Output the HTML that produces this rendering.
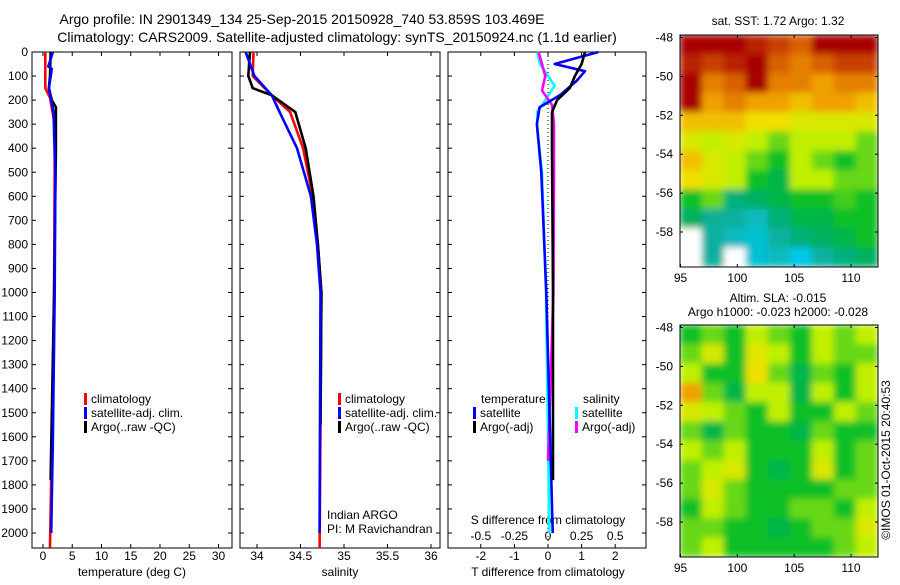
<!DOCTYPE html>
<html><head><meta charset="utf-8"><style>
body{margin:0;background:#fff;width:900px;height:580px;overflow:hidden}
svg{font-family:"Liberation Sans",sans-serif;font-size:12px}
</style></head><body>
<svg id="s" width="900" height="580" xmlns="http://www.w3.org/2000/svg">
<defs>
<filter id="blur" x="-5%" y="-5%" width="110%" height="110%"><feGaussianBlur stdDeviation="3.5" edgeMode="duplicate"/></filter>
<clipPath id="clip1"><rect x="680" y="35" width="198" height="232"/></clipPath>
<clipPath id="clip2"><rect x="680" y="325" width="198" height="232"/></clipPath>
</defs>
<text x="302" y="24" text-anchor="middle" style="font-size:14px">Argo profile: IN 2901349_134 25-Sep-2015 20150928_740 53.859S 103.469E</text>
<text x="337" y="42" text-anchor="middle" style="font-size:14px">Climatology: CARS2009. Satellite-adjusted climatology: synTS_20150924.nc (1.1d earlier)</text>
<text x="778" y="25" text-anchor="middle">sat. SST: 1.72 Argo: 1.32</text>
<text x="778" y="302" text-anchor="middle">Altim. SLA: -0.015</text>
<text x="778" y="316" text-anchor="middle">Argo h1000: -0.023 h2000: -0.028</text>
<text transform="translate(890,460) rotate(-90)" text-anchor="middle">©IMOS 01-Oct-2015 20:40:53</text>
<text x="327" y="519">Indian ARGO</text>
<text x="327" y="533">PI: M Ravichandran</text>
</svg>
<script>
const NS="http://www.w3.org/2000/svg";
const svg=document.getElementById('s');
function mk(t,a,p){const e=document.createElementNS(NS,t);for(const k in a)e.setAttribute(k,a[k]);(p||svg).appendChild(e);return e;}
// ---- data ----
const depthTicks=[0,100,200,300,400,500,600,700,800,900,1000,1100,1200,1300,1400,1500,1600,1700,1800,1900,2000];
const tempTicks=[0,5,10,15,20,25,30];
const salTicks=[34,34.5,35,35.5,36];
const salTickLabels=["34","34.5","35","35.5","36"];
const tdiffTicks=[-2,-1,0,1,2];
const sdiffTicks=[-0.5,-0.25,0,0.25,0.5];
const sdiffTickLabels=["-0.5","-0.25","0","0.25","0.5"];
const tClimD=[0,150,190,300,500,1000,1500,2060];
const tClimV=[0.4,0.4,1.2,2.0,2.0,1.9,1.6,1.2];
const tArgoD=[0,100,150,200,230,400,1000,1780];
const tArgoV=[1.3,1.2,1.0,1.5,2.2,2.2,1.9,1.3];
const tSatD=[0,60,70,150,250,500,1000,1600,2000];
const tSatV=[1.7,0.9,1.5,1.0,1.8,2.1,2.0,1.7,1.4];
const sClimD=[0,100,180,250,400,600,800,1000,2060];
const sClimV=[33.96,33.95,34.17,34.38,34.53,34.64,34.70,34.74,34.72];
const sArgoD=[0,100,150,180,250,400,600,800,1000,1550];
const sArgoV=[33.92,33.9,33.95,34.17,34.44,34.56,34.65,34.70,34.74,34.73];
const sSatD=[0,100,180,250,400,600,800,1000,2000];
const sSatV=[33.87,33.97,34.17,34.26,34.46,34.62,34.69,34.73,34.72];
const dtSatD=[0,50,80,120,180,230,300,500,1000,2000];
const dtSatV=[1.5,0.2,1.1,0.85,0.35,-0.25,-0.33,-0.2,-0.05,0.14];
const dtArgoD=[0,50,100,150,200,250,400,1000,1780];
const dtArgoV=[1.1,1.0,0.8,0.65,0.27,0.12,0.12,0.15,0.15];
const dsSatD=[0,50,100,140,200,250,320,500,1000,2000];
const dsSatV=[-0.08,-0.06,0,0.05,-0.02,-0.08,-0.08,-0.045,-0.015,0.01];
const dsArgoD=[0,100,160,220,300,500,1000,1700];
const dsArgoV=[-0.07,-0.02,-0.045,0.03,0.045,0.045,0.04,0.0];
const sstGrid=[
[1,1,1,0.95,0.9,0.85,1,1,1],
[0.95,0.9,0.95,1,0.85,0.8,0.85,0.9,0.9],
[1,0.8,0.85,1,0.8,0.8,0.75,0.8,0.8],
[1,0.75,0.8,0.75,0.75,0.7,0.75,0.75,0.7],
[0.7,0.7,0.7,0.65,0.65,0.6,0.6,0.6,0.6],
[0.6,0.55,0.6,0.55,0.5,0.55,0.55,0.55,0.5],
[0.7,0.6,0.55,0.5,0.45,0.55,0.5,0.45,0.5],
[0.65,0.6,0.55,0.45,0.42,0.55,0.55,0.5,0.5],
[0.45,0.5,0.38,0.4,0.42,0.45,0.45,0.48,0.45],
[0.4,0.36,0.35,0.32,0.38,0.42,0.42,0.45,0.45],
[null,0.35,0.32,0.3,0.35,0.38,0.4,0.42,0.45],
[null,0.35,null,0.3,0.32,0.28,0.35,0.38,0.4]];
const slaGrid=[
[0.45,0.5,0.45,0.55,0.5,0.45,0.55,0.5,0.55],
[0.5,0.6,0.45,0.62,0.55,0.45,0.55,0.5,0.5],
[0.55,0.45,0.45,0.65,0.5,0.42,0.5,0.45,0.55],
[0.75,0.5,0.42,0.55,0.55,0.42,0.55,0.45,0.55],
[0.6,0.55,0.5,0.45,0.55,0.45,0.45,0.55,0.5],
[0.5,0.42,0.5,0.45,0.45,0.42,0.5,0.45,0.45],
[0.55,0.5,0.55,0.45,0.45,0.45,0.55,0.45,0.5],
[0.5,0.55,0.6,0.45,0.42,0.45,0.6,0.45,0.5],
[0.5,0.6,0.5,0.45,0.45,0.45,0.45,0.5,0.5],
[0.45,0.55,0.5,0.45,0.45,0.5,0.5,0.45,0.55],
[0.5,0.5,0.45,0.45,0.42,0.45,0.5,0.5,0.6],
[0.5,0.55,0.45,0.45,0.45,0.45,0.45,0.5,0.55]];
const latTicks=[-48,-50,-52,-54,-56,-58];
const lonTicks=[95,100,105,110];
// ---- axes ----
const Y0=52,YS=0.2405,YB=548;
const yD=d=>Y0+d*YS;
const xT=v=>43+5.85*v;
const xS=v=>257+87*(v-34);
const xDT=v=>548+33.6*v;
const xDS=v=>548+134.4*v;
const panels=[[32,232],[240,440],[448,646]];
panels.forEach((p,i)=>{
  const r=mk('rect',{x:p[0],y:Y0,width:p[1]-p[0],height:YB-Y0,fill:'none',stroke:'#000','stroke-width':1});
  
  
  depthTicks.forEach(d=>{mk('line',{x1:p[0],x2:p[0]+4,y1:yD(d),y2:yD(d),stroke:'#000'});mk('line',{x1:p[1],x2:p[1]-4,y1:yD(d),y2:yD(d),stroke:'#000'});});
});
depthTicks.forEach(d=>{const t=mk('text',{x:28,y:yD(d)+4,'text-anchor':'end'});t.textContent=d;
  
  });
function xticks(ticks,labels,f,ly){ticks.forEach((v,i)=>{const x=f(v);
  mk('line',{x1:x,x2:x,y1:YB,y2:YB-4,stroke:'#000'});mk('line',{x1:x,x2:x,y1:Y0,y2:Y0+4,stroke:'#000'});
  const t=mk('text',{x:x,y:ly,'text-anchor':'middle'});t.textContent=labels[i];
  
  });}
xticks(tempTicks,tempTicks.map(String),xT,560);
xticks(salTicks,salTickLabels,xS,560);
xticks(tdiffTicks,tdiffTicks.map(String),xDT,560);
sdiffTicks.forEach((v,i)=>{const t=mk('text',{x:xDS(v),y:540,'text-anchor':'middle'});t.textContent=sdiffTickLabels[i];
  
  });
[[132,'temperature (deg C)','temp-axis-title'],[340,'salinity','salinity-axis-title'],[548,'T difference from climatology','t-diff-axis-title']].forEach(a=>{const t=mk('text',{x:a[0],y:576,'text-anchor':'middle'});t.textContent=a[1];
  
  });
{const t=mk('text',{x:548,y:524,'text-anchor':'middle'});t.textContent='S difference from climatology';
 
 }
mk('line',{x1:548,x2:548,y1:Y0,y2:YB,stroke:'#000','stroke-dasharray':'1,3'});
function line(D,V,fx,col,name){const pts=D.map((d,i)=>fx(V[i]).toFixed(1)+','+yD(d).toFixed(1)).join(' ');
  const e=mk('polyline',{points:pts,fill:'none',stroke:col,'stroke-width':2.6,'stroke-linejoin':'round'});
  
  }
line(tClimD,tClimV,xT,'#f00','temp-climatology-line');
line(tArgoD,tArgoV,xT,'#000','temp-argo-line');
line(tSatD,tSatV,xT,'#00f','temp-satellite-line');
line(sClimD,sClimV,xS,'#f00','salinity-climatology-line');
line(sArgoD,sArgoV,xS,'#000','salinity-argo-line');
line(sSatD,sSatV,xS,'#00f','salinity-satellite-line');
line(dsSatD,dsSatV,xDS,'#0ff','s-diff-satellite-line');
line(dsArgoD,dsArgoV,xDS,'#f0f','s-diff-argo-line');
line(dtSatD,dtSatV,xDT,'#00f','t-diff-satellite-line');
line(dtArgoD,dtArgoV,xDT,'#000','t-diff-argo-line');
function leg(x,y,col,txt){mk('rect',{x:x,y:y-10,width:3,height:12,fill:col});const t=mk('text',{x:x+7,y:y});t.textContent=txt;
  
  }
leg(84,403,'#f00','climatology');leg(84,417,'#00f','satellite-adj. clim.');leg(84,431,'#000','Argo(..raw -QC)');
leg(338,403,'#f00','climatology');leg(338,417,'#00f','satellite-adj. clim.');leg(338,431,'#000','Argo(..raw -QC)');
{const t=mk('text',{x:481,y:403});t.textContent='temperature';
 const u=mk('text',{x:583,y:403});u.textContent='salinity';}
leg(473,417,'#00f','satellite');leg(473,431,'#000','Argo(-adj)');
leg(575,417,'#0ff','satellite');leg(575,431,'#f0f','Argo(-adj)');
// ---- maps ----
const stops=[[0.28,[0,200,230]],[0.35,[16,176,160]],[0.4,[0,176,96]],[0.45,[16,192,40]],[0.55,[192,240,0]],[0.65,[240,224,0]],[0.75,[240,160,0]],[0.85,[216,96,0]],[1,[168,0,0]]];
function cmap(v){if(v<=stops[0][0])return 'rgb('+stops[0][1]+')';for(let i=1;i<stops.length;i++){if(v<=stops[i][0]){const a=stops[i-1],b=stops[i],t=(v-a[0])/(b[0]-a[0]);return 'rgb('+a[1].map((c,k)=>Math.round(c+(b[1][k]-c)*t)).join(',')+')';}}return 'rgb(168,0,0)';}
function map(grid,top,name,clip){
  const L=680,R=878,B=top+232;
  const lonX=v=>680.5+(v-95)*(851-680.5)/15;
  const latY=v=>top+2.5+(-48-v)*(194.5/10);
  const outer=mk('g',{'clip-path':'url(#'+clip+')'});
  const g=mk('g',{filter:'url(#blur)'},outer);
  
  
  const nr=grid.length,nc=grid[0].length,cw=(R-L)/nc,ch=(B-top)/nr;
  grid.forEach((row,r)=>row.forEach((v,c)=>{const e=mk('rect',{x:L+c*cw-0.3,y:top+r*ch-0.3,width:cw+0.6,height:ch+0.6,fill:v===null?'#fff':cmap(v)},g);
    
    }));
  mk('rect',{x:L,y:top,width:R-L,height:B-top,fill:'none',stroke:'#000'});
  latTicks.forEach(v=>{const y=latY(v);mk('line',{x1:L,x2:L+3,y1:y,y2:y,stroke:'#000'});mk('line',{x1:R,x2:R-3,y1:y,y2:y,stroke:'#000'});
    const t=mk('text',{x:673,y:y+4,'text-anchor':'end'});t.textContent=v;
    
    });
  lonTicks.forEach(v=>{const x=lonX(v);mk('line',{x1:x,x2:x,y1:B,y2:B-3,stroke:'#000'});mk('line',{x1:x,x2:x,y1:top,y2:top+3,stroke:'#000'});
    const t=mk('text',{x:x,y:B+15,'text-anchor':'middle'});t.textContent=v;
    
    });
}
map(sstGrid,35,'sst-map','clip1');
map(slaGrid,325,'sla-map','clip2');
</script>
</body></html>
